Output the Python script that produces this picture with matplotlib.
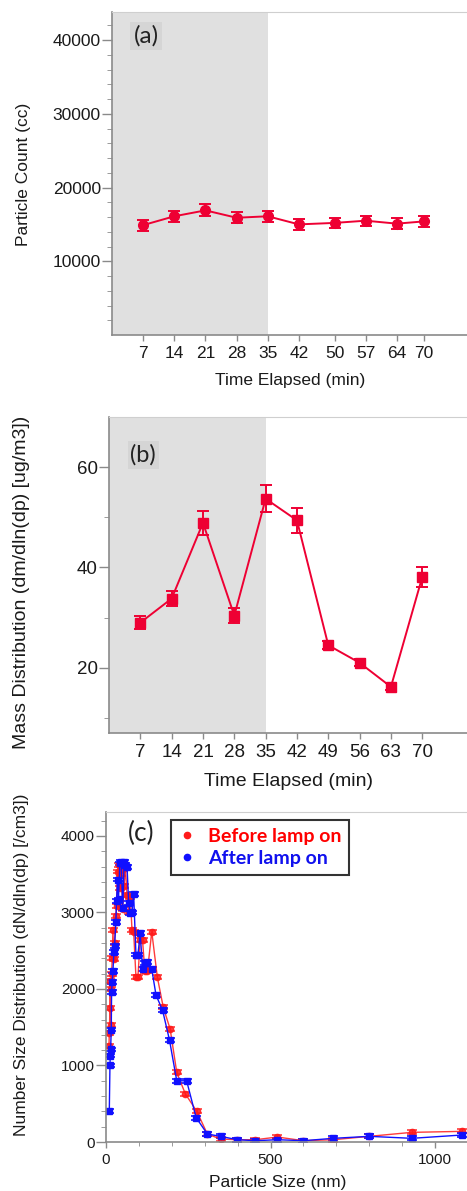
import numpy as np
import matplotlib.pyplot as plt
from matplotlib.ticker import MultipleLocator, FixedLocator

# ---- data ----
time_a = [7, 14, 21, 28, 35, 42, 50, 57, 64, 70]
count_a = [14900, 16100, 16900, 15900, 16100, 15000, 15200, 15500, 15100, 15400]
count_err = [750, 750, 800, 750, 750, 700, 700, 700, 700, 700]

time_b = [7, 14, 21, 28, 35, 42, 49, 56, 63, 70]
mass_b = [29.0, 33.8, 48.9, 30.4, 53.7, 49.4, 24.5, 21.0, 16.2, 38.1]
mass_err = [1.3, 1.5, 2.4, 1.5, 2.7, 2.5, 0.8, 0.7, 0.7, 1.9]

size_before = [9, 10, 12, 13, 14, 16, 17, 19, 21, 24, 26, 30, 32, 35, 38, 42, 46, 51,
               55, 59, 64, 69, 74, 79, 84, 91, 97, 104, 111, 118, 126, 139, 156, 174,
               195, 215, 241, 276, 308, 348, 399, 454, 521, 600, 691, 800, 929, 1081]
num_before = [1250, 1420, 1750, 2100, 1530, 2000, 2200, 2400, 2770, 2390, 2600, 2950,
              3085, 3535, 3620, 3320, 3500, 3050, 3350, 3580, 3230, 3010, 3200, 2770,
              2750, 2160, 2160, 2640, 2640, 2230, 2230, 2750, 2155, 1760, 1475, 910,
              630, 400, 104, 39, 30, 30, 65, 17, 30, 74, 126, 139]

size_after = [10, 12, 13, 14, 16, 17, 19, 21, 24, 26, 30, 32, 35, 38, 42, 46, 51, 55,
              59, 64, 69, 74, 79, 84, 91, 97, 104, 111, 118, 126, 139, 152, 172, 193,
              215, 245, 274, 308, 348, 399, 454, 521, 600, 691, 800, 929, 1081]
num_after = [400, 1000, 1130, 1210, 1470, 1960, 2090, 2230, 2480, 2560, 2880, 3150,
             3430, 3170, 3640, 3660, 3060, 3660, 3620, 3590, 3120, 2990, 3000, 3240,
             2450, 2450, 2730, 2260, 2340, 2350, 2260, 1920, 1720, 1330, 800, 800, 318,
             104, 74, 30, 17, 30, 17, 48, 74, 48, 91]

W, H = 467, 1191
fig = plt.figure(figsize=(W / 100, H / 100), dpi=100)


def rect(l, t, r, b):
    return [l / W, 1 - b / H, (r - l) / W, (b - t) / H]


def style(ax, fs):
    for s in ['left', 'bottom']:
        ax.spines[s].set_color('#8a8a8a')
        ax.spines[s].set_linewidth(1.2)
    ax.spines['top'].set_color('#cfcfcf')
    ax.spines['right'].set_visible(False)
    ax.tick_params(axis='both', which='major', colors='#8a8a8a', labelcolor='#1a1a1a',
                   labelsize=fs, width=1)
    ax.tick_params(axis='y', which='major', length=7, pad=1)
    ax.tick_params(axis='y', which='minor', length=3.5, colors='#8a8a8a')
    ax.tick_params(axis='x', which='major', length=4, pad=4)
    ax.tick_params(axis='x', which='minor', length=3, colors='#8a8a8a')
    for lab in ax.get_xticklabels() + ax.get_yticklabels():
        lab.set_family('Liberation Sans')


red = '#ee0033'

# ---- (a) ----
ax1 = fig.add_axes(rect(112, 12, 468, 335))
ax1.axvspan(0, 35, color='#e0e0e0', lw=0)
ax1.errorbar(time_a, count_a, yerr=count_err, color=red, marker='o', ms=7,
             lw=1.4, capsize=4.5, capthick=1.4, elinewidth=1.4)
ax1.set_xlim(0, 80)
ax1.set_ylim(0, 43800)
ax1.set_xticks(time_a)
ax1.set_yticks([10000, 20000, 30000, 40000])
ax1.yaxis.set_minor_locator(FixedLocator(np.arange(2000, 43000, 2000)))
style(ax1, 12.5)
ax1.text(0.096, 0.925, '(a)', transform=ax1.transAxes, ha='center', va='center',
         fontsize=17.5, family='Lato', color='#222222',
         bbox=dict(facecolor='#d5d5d5', edgecolor='none', pad=2.5))
fig.text(24 / W, 1 - 174 / H, 'Particle Count (cc)', rotation=90, ha='center',
         va='center', fontsize=12.5, family='Liberation Sans', color='#1a1a1a')
fig.text(290 / W, 1 - 380 / H, 'Time Elapsed (min)', ha='center', va='center',
         fontsize=12.5, family='Liberation Sans', color='#1a1a1a')

# ---- (b) ----
ax2 = fig.add_axes(rect(109, 417, 467, 733))
ax2.axvspan(0, 35, color='#e0e0e0', lw=0)
ax2.errorbar(time_b, mass_b, yerr=mass_err, color=red, marker='s', ms=7.5,
             lw=1.4, capsize=4.5, capthick=1.4, elinewidth=1.4)
ax2.set_xlim(0, 80)
ax2.set_ylim(7, 70)
ax2.set_xticks(time_b)
ax2.set_yticks([20, 40, 60])
ax2.yaxis.set_minor_locator(FixedLocator([10, 30, 50]))
style(ax2, 13.5)
ax2.text(0.096, 0.88, '(b)', transform=ax2.transAxes, ha='center', va='center',
         fontsize=17, family='Lato', color='#222222',
         bbox=dict(facecolor='#d5d5d5', edgecolor='none', pad=2))
fig.text(22 / W, 1 - 582 / H, 'Mass Distribution (dm/dln(dp) [ug/m3])', rotation=90,
         ha='center', va='center', fontsize=14, family='Liberation Sans', color='#1a1a1a')
fig.text(289 / W, 1 - 782 / H, 'Time Elapsed (min)', ha='center', va='center',
         fontsize=14, family='Liberation Sans', color='#1a1a1a')

# ---- (c) ----
ax3 = fig.add_axes(rect(106, 812, 468, 1142))
ax3.errorbar(size_before, num_before, yerr=25, color='#ff1a1a', marker='o', ms=4.5,
             lw=1.0, capsize=3.5, capthick=1.2, elinewidth=1, alpha=0.85)
ax3.errorbar(size_after, num_after, yerr=25, color='#1010ff', marker='s', ms=5,
             lw=1.0, capsize=3.5, capthick=1.2, elinewidth=1)
ax3.set_xlim(0, 1100)
ax3.set_ylim(0, 4313)
ax3.set_xticks([0, 500, 1000])
ax3.xaxis.set_minor_locator(MultipleLocator(100))
ax3.set_yticks([0, 1000, 2000, 3000, 4000])
ax3.yaxis.set_minor_locator(MultipleLocator(200))
style(ax3, 11)
ax3.text(0.097, 0.936, '(c)', transform=ax3.transAxes, ha='center', va='center',
         fontsize=19, family='Lato', color='#222222')
h1, = ax3.plot([], [], ls='none', marker='.', color='#ff1a1a', ms=9)
h2, = ax3.plot([], [], ls='none', marker='.', color='#1010ff', ms=9)
leg = ax3.legend([h1, h2], ['Before lamp on', 'After lamp on'], loc='upper left',
                 bbox_to_anchor=(0.18, 0.975), frameon=True, fancybox=False,
                 handlelength=0.8, handletextpad=0.7, borderpad=0.4, labelspacing=0.25,
                 borderaxespad=0,
                 prop={'family': 'Lato', 'weight': 'bold', 'size': 14})
leg.get_frame().set_edgecolor('black')
leg.get_frame().set_linewidth(1.5)
for t, c in zip(leg.get_texts(), ['#ff0000', '#1010ee']):
    t.set_color(c)
fig.text(22 / W, 1 - 965 / H, 'Number Size Distribution (dN/dln(dp) [/cm3])', rotation=90,
         ha='center', va='center', fontsize=12.5, family='Liberation Sans', color='#1a1a1a')
fig.text(278 / W, 1 - 1182 / H, 'Particle Size (nm)', ha='center', va='center',
         fontsize=12.5, family='Liberation Sans', color='#1a1a1a')

fig.savefig('out.png', dpi=100)
